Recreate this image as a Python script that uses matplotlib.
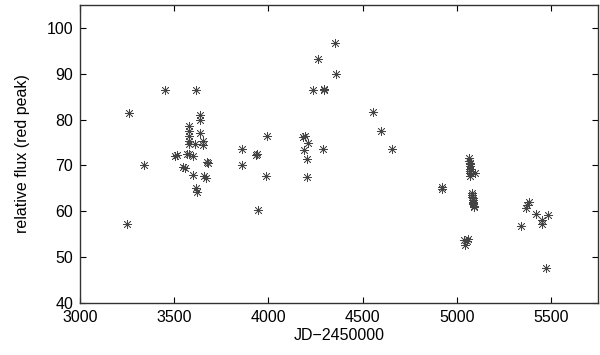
import matplotlib
matplotlib.use("Agg")
from matplotlib import pyplot as plt

plt.rcParams["font.family"] = ["Liberation Sans", "DejaVu Sans"]

# JD-2450000 and relative flux of the red peak
jd = [
    3252, 3261, 3340, 3450,
    3505, 3515, 3548, 3556, 3570,
    3577, 3577, 3578, 3578, 3578, 3580, 3600, 3602, 3608,
    3617, 3615, 3619, 3635, 3637, 3635, 3652, 3652,
    3658, 3670, 3672, 3680,
    3859, 3859, 3935, 3942, 3946, 3988, 3993,
    4186, 4192, 4213, 4189, 4203, 4203, 4236, 4291, 4294, 4298,
    4266, 4354, 4360,
    4557, 4599, 4654,
    4920, 4923,
    5040, 5046, 5055, 5062,
    5066, 5067, 5068, 5068, 5069, 5070, 5071, 5072, 5069, 5095,
    5080, 5082, 5083, 5084, 5085, 5086, 5087, 5088, 5089, 5090,
    5340, 5367, 5375, 5384, 5422, 5452, 5454, 5487, 5474,
]
flux = [
    57.2, 81.5, 70.0, 86.4,
    72.0, 72.2, 69.6, 69.4, 72.5,
    78.6, 77.5, 76.4, 75.3, 74.7, 72.6, 72.1, 68.0, 74.7,
    86.4, 65.1, 64.1, 81.0, 79.9, 77.0, 75.3, 74.4,
    67.6, 67.3, 70.8, 70.6,
    73.5, 70.0, 72.2, 72.4, 60.2, 67.6, 76.4,
    76.3, 76.5, 74.8, 73.3, 71.3, 67.5, 86.5, 73.5, 86.4, 86.6,
    93.2, 96.8, 90.0,
    81.6, 77.5, 73.5,
    64.8, 65.3,
    53.8, 52.6, 53.5, 54.0,
    71.7, 71.0, 70.3, 69.8, 69.3, 68.8, 68.3, 67.8, 70.6, 68.4,
    64.0, 63.5, 63.2, 62.8, 62.5, 62.1, 61.8, 61.5, 61.2, 60.9,
    56.7, 60.8, 61.3, 62.1, 59.5, 58.0, 57.3, 59.3, 47.7,
]

fig = plt.figure(figsize=(6.0, 3.55), dpi=100)
ax = fig.add_axes([0.1333, 0.1465, 0.8634, 0.8395])

ax.plot(jd, flux, linestyle="none", marker=(8, 2, 0), markersize=6.5,
        markeredgewidth=0.5, color="#444444")

ax.set_xlim(3000, 5750)
ax.set_ylim(40, 105)
ax.set_xticks([3000, 3500, 4000, 4500, 5000, 5500])
ax.set_yticks([40, 50, 60, 70, 80, 90, 100])
ax.tick_params(direction="in", length=4, width=0.8, labelsize=11.5,
               top=True, right=True, pad=5)
for s in ax.spines.values():
    s.set_linewidth(1.0)
    s.set_color("#333333")

ax.set_xlabel("JD\u22122450000", fontsize=11.5, labelpad=2)
ax.set_ylabel("relative flux (red peak)", fontsize=11.5, labelpad=12)

fig.savefig("out.png", dpi=100)
